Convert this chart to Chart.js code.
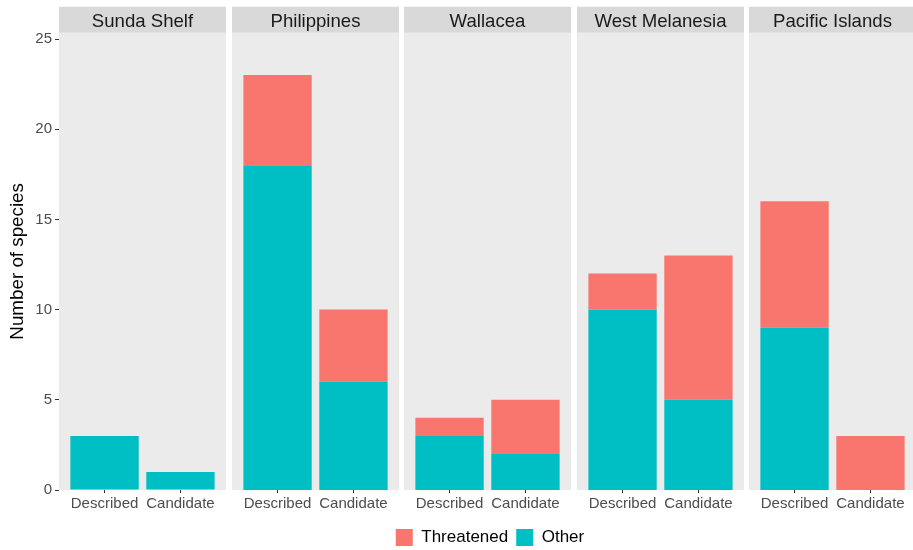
<!DOCTYPE html>
<html><head><meta charset="utf-8">
<script src="https://cdn.jsdelivr.net/npm/chart.js@4.4.0/dist/chart.umd.min.js"></script>
<style>
html,body{margin:0;padding:0;background:#fff;width:913px;height:550px;overflow:hidden;position:relative;}
.c{position:absolute;top:0;height:520px;}
#lg{position:absolute;left:290px;width:400px;top:521px;height:60px;}
</style></head><body>
<div class="c" id="w0" style="left:0;width:226px"><canvas id="p0"></canvas></div>
<div class="c" id="w1" style="left:232px;width:167px"><canvas id="p1"></canvas></div>
<div class="c" id="w2" style="left:404px;width:167px"><canvas id="p2"></canvas></div>
<div class="c" id="w3" style="left:577px;width:167px"><canvas id="p3"></canvas></div>
<div class="c" id="w4" style="left:749px;width:167px"><canvas id="p4"></canvas></div>
<div id="lg"><canvas id="legend"></canvas></div>
<script>
// ---- data ----
const regions = ['Sunda Shelf', 'Philippines', 'Wallacea', 'West Melanesia', 'Pacific Islands'];
const statusLabels = ['Described', 'Candidate'];
const otherDescribed = [3, 18, 3, 10, 9];
const otherCandidate = [1, 6, 2, 5, 0];
const threatenedDescribed = [0, 5, 1, 2, 7];
const threatenedCandidate = [0, 4, 3, 8, 3];
const seriesNames = ['Threatened', 'Other'];
const yTicks = [0, 5, 10, 15, 20, 25];
const yMax = 25.35;

// ---- style ----
const FONT = "'Liberation Sans', Arial, sans-serif";
Chart.defaults.font.family = FONT;
const colors = { Threatened: '#F8766D', Other: '#00BFC4' };

const stripPlugin = {
  id: 'strip',
  beforeDraw(chart, args, opts) {
    const { ctx, chartArea: a } = chart;
    ctx.save();
    ctx.fillStyle = '#EBEBEB';
    ctx.fillRect(a.left, a.top, a.right - a.left, a.bottom - a.top);
    ctx.fillStyle = '#D9D9D9';
    ctx.fillRect(a.left, a.top - 26, a.right - a.left, 26);
    ctx.fillStyle = '#1A1A1A';
    ctx.font = '18.6px ' + FONT;
    ctx.textAlign = 'center';
    ctx.textBaseline = 'alphabetic';
    ctx.fillText(opts.text, (a.left + a.right) / 2, a.top - 6);
    ctx.restore();
  }
};

function makePanel(i) {
  const first = i === 0;
  const other = [otherDescribed[i], otherCandidate[i]];
  const threat = [threatenedDescribed[i], threatenedCandidate[i]];
  const yScale = {
    min: 0, max: yMax, stacked: true,
    afterBuildTicks: s => { s.ticks = yTicks.map(v => ({ value: v })); },
    display: first
  };
  if (first) {
    Object.assign(yScale, {
      ticks: { font: { size: 15 }, color: '#4D4D4D', padding: 3 },
      grid: { display: true, drawOnChartArea: false, drawTicks: true, tickLength: 4, color: '#333333' },
      border: { display: false },
      title: { display: true, text: 'Number of species', font: { size: 18.8 }, color: '#000000', padding: { top: 7, bottom: 0 } },
      afterFit: s => { s.width = 59; }
    });
  }
  new Chart(document.getElementById('p' + i), {
    type: 'bar',
    data: {
      datasets: [
        { label: 'Other', data: other.map((v, k) => ({ x: k + 1, y: v })), backgroundColor: colors.Other, borderWidth: 0 },
        { label: 'Threatened', data: threat.map((v, k) => ({ x: k + 1, y: v })), backgroundColor: colors.Threatened, borderWidth: 0 }
      ]
    },
    options: {
      animation: false,
      responsive: true,
      maintainAspectRatio: false,
      barPercentage: 0.9,
      categoryPercentage: 1,
      layout: { padding: { top: 32.7, left: 0, right: 0, bottom: 0 } },
      scales: {
        x: {
          type: 'linear', min: 0.4, max: 2.6, stacked: true, offset: false,
          afterBuildTicks: s => { s.ticks = statusLabels.map((_, k) => ({ value: k + 1 })); },
          ticks: { callback: v => statusLabels[Math.round(v) - 1], autoSkip: false, maxRotation: 0, font: { size: 15 }, color: '#4D4D4D', padding: 2 },
          grid: { display: true, offset: false, drawOnChartArea: false, drawTicks: true, tickLength: 3, color: '#333333' },
          border: { display: false },
          afterFit: s => { s.height = 30; }
        },
        y: yScale
      },
      plugins: {
        legend: { display: false },
        tooltip: { enabled: false },
        strip: { text: regions[i] }
      }
    },
    plugins: [stripPlugin]
  });
}
regions.forEach((_, i) => makePanel(i));

new Chart(document.getElementById('legend'), {
  type: 'bar',
  data: { labels: [], datasets: seriesNames.map(n => ({ label: n, data: [], backgroundColor: colors[n], borderColor: colors[n], borderWidth: 0 })) },
  options: {
    animation: false, responsive: true, maintainAspectRatio: false,
    scales: { x: { display: false }, y: { display: false } },
    plugins: {
      tooltip: { enabled: false },
      legend: { position: 'top', maxHeight: 50, onClick: null, labels: { boxWidth: 17, boxHeight: 17, padding: 8, color: '#000000', font: { size: 17 } } }
    }
  }
});
</script>
</body></html>
